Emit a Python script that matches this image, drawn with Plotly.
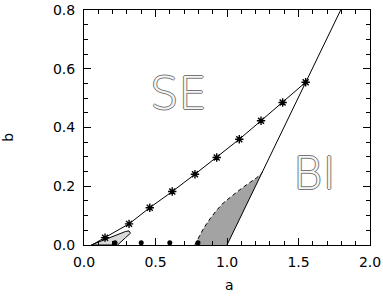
import plotly.graph_objects as go

# line with asterisks (SE / BI boundary from simulations)
ast_a = [0.055, 0.147, 0.315, 0.46, 0.617, 0.776, 0.928, 1.086, 1.238, 1.389, 1.55]
ast_b = [0.0, 0.025, 0.072, 0.127, 0.182, 0.241, 0.298, 0.36, 0.423, 0.485, 0.554]

# steep boundary line
steep_a = [1.0, 1.25, 1.55, 1.795]
steep_b = [0.0, 0.25, 0.553, 0.8]

# dashed left edge of the dark grey region
dash_a = [0.775, 0.834, 0.881, 0.927, 0.974, 1.021, 1.068, 1.114, 1.161, 1.208, 1.25]
dash_b = [0.0, 0.055, 0.089, 0.118, 0.143, 0.163, 0.18, 0.197, 0.212, 0.229, 0.248]

# small light grey loop near the origin
loop_a = [0.05, 0.11, 0.2, 0.29, 0.315, 0.325, 0.29, 0.255, 0.235, 0.05]
loop_b = [0.0, 0.012, 0.03, 0.046, 0.048, 0.04, 0.025, 0.01, 0.0, 0.0]

# dots on the a axis
dot_a = [0.217, 0.4, 0.6, 0.797]
dot_b = [0.008, 0.008, 0.008, 0.008]

fig = go.Figure()

# dark grey region: dashed edge up to the kink, then back down the steep line
fig.add_trace(go.Scatter(x=dash_a + steep_a[1::-1], y=dash_b + steep_b[1::-1],
                         mode='lines', fill='toself', fillcolor='#a3a3a3',
                         line=dict(width=0), hoverinfo='skip'))
fig.add_trace(go.Scatter(x=dash_a, y=dash_b, mode='lines',
                         line=dict(color='black', width=1, dash='4px,3px')))
fig.add_trace(go.Scatter(x=loop_a, y=loop_b, mode='lines', fill='toself',
                         fillcolor='#d9d9d9', line=dict(color='black', width=1)))
fig.add_trace(go.Scatter(x=steep_a, y=steep_b, mode='lines',
                         line=dict(color='black', width=1)))
fig.add_trace(go.Scatter(x=ast_a, y=ast_b, mode='lines',
                         line=dict(color='black', width=1)))
fig.add_trace(go.Scatter(x=ast_a[1:], y=ast_b[1:], mode='markers',
                         marker=dict(symbol='asterisk-open', size=7, color='black',
                                     line=dict(color='black', width=1.4))))
fig.add_trace(go.Scatter(x=dot_a, y=dot_b, mode='markers', cliponaxis=False,
                         marker=dict(symbol='circle', size=5, color='black')))

outline = '1px 0 0 #777, -1px 0 0 #777, 0 1px 0 #777, 0 -1px 0 #777'
for txt, xa, yb in [('SE', 0.664, 0.517), ('BI', 1.615, 0.242)]:
    fig.add_annotation(x=xa, y=yb, text=txt, showarrow=False,
                       font=dict(family='DejaVu Sans', size=45, color='#f6f6f6',
                                 weight=300, shadow=outline))

# axis titles
fig.add_annotation(xref='paper', yref='paper', x=0.51, y=-0.17, text='a',
                   xanchor='center', yanchor='middle', showarrow=False,
                   font=dict(family='DejaVu Sans', size=14, color='black'))
fig.add_annotation(xref='paper', yref='paper', x=-0.266, y=0.46, text='b', textangle=-90,
                   xanchor='center', yanchor='middle', showarrow=False,
                   font=dict(family='DejaVu Sans', size=14, color='black'))

axis_style = dict(showline=True, linecolor='black', linewidth=1, mirror='allticks',
                  ticks='inside', ticklen=7, tickcolor='black', showgrid=False,
                  zeroline=False, automargin=False,
                  tickfont=dict(family='DejaVu Sans', size=14, color='black'))

fig.update_xaxes(range=[0, 2], tickvals=[0, 0.5, 1.0, 1.5, 2.0],
                 ticktext=['0.0', '0.5', '1.0', '1.5', '2.0'], ticklabelstandoff=4,
                 minor=dict(dtick=0.1, ticks='inside', ticklen=4, tickcolor='black'),
                 **axis_style)
fig.update_yaxes(range=[0, 0.8], tickvals=[0, 0.2, 0.4, 0.6, 0.8],
                 ticktext=['0.0', '0.2', '0.4', '0.6', '0.8'], ticklabelstandoff=5,
                 minor=dict(dtick=0.05, ticks='inside', ticklen=4, tickcolor='black'),
                 **axis_style)

fig.update_layout(width=383, height=300, showlegend=False,
                  margin=dict(l=84, r=13, t=10, b=55),
                  plot_bgcolor='white', paper_bgcolor='white')

# page body has a default 8px margin; drop it so the figure sits at the corner
fig.write_html("out.html", config={'displayModeBar': False},
               post_script="document.body.style.margin='0';")
